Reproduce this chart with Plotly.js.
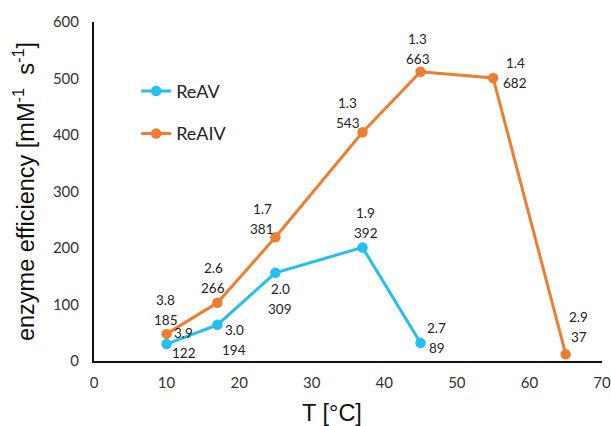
<!DOCTYPE html>
<html>
<head>
<meta charset="utf-8">
<script src="https://cdn.plot.ly/plotly-3.0.1.min.js"></script>
<style>html,body{margin:0;padding:0;background:#fff;}#chart{width:611px;height:426px;}</style>
</head>
<body>
<div id="chart"></div>
<script>
// ---- data ----
const tempReAV = [10, 17, 25, 37, 45];
const effReAV = [30, 64, 156, 201, 32];
const topLabelReAV = ['3.9', '3.0', '2.0', '1.9', '2.7'];
const botLabelReAV = ['122', '194', '309', '392', '89'];

const tempReAIV = [10, 17, 25, 37, 45, 55, 65];
const effReAIV = [48, 103, 219, 405, 512, 501, 12];
const topLabelReAIV = ['3.8', '2.6', '1.7', '1.3', '1.3', '1.4', '2.9'];
const botLabelReAIV = ['185', '266', '381', '543', '663', '682', '37'];

const xTicks = [0, 10, 20, 30, 40, 50, 60, 70];
const yTicks = [0, 100, 200, 300, 400, 500, 600];

// ---- label placement (pixel offsets from each point: [dx, dy] with dy down) ----
const shiftReAV = [[17, -1], [17, 15], [5, 26], [3, -24], [16, -5]];
const shiftReAIV = [[-1, -24], [-4, -25], [-13, -18], [-15, -19], [-3, -23], [22, -5], [13, -27]];

const blue = '#22BFEF';
const orange = '#ED7D31';
const labelFont = {family: 'Lato, "Open Sans", sans-serif', size: 13.5, color: '#222'};

function labels(xs, ys, tops, bots, shifts) {
  const out = [];
  xs.forEach((x, i) => {
    const [dx, dy] = shifts[i];
    out.push({x: x, y: ys[i], xref: 'x', yref: 'y', text: tops[i], showarrow: false,
      xanchor: 'center', yanchor: 'middle', xshift: dx, yshift: -dy + 10, font: labelFont});
    out.push({x: x, y: ys[i], xref: 'x', yref: 'y', text: bots[i], showarrow: false,
      xanchor: 'center', yanchor: 'middle', xshift: dx, yshift: -dy - 10, font: labelFont});
  });
  return out;
}

const traces = [
  {x: tempReAV, y: effReAV, name: 'ReAV', type: 'scatter', mode: 'lines+markers',
   line: {color: blue, width: 3}, marker: {color: blue, size: 10.5}, legendgroup: 'a', hoverinfo: 'skip'},
  {x: tempReAIV, y: effReAIV, name: 'ReAIV', type: 'scatter', mode: 'lines+markers',
   line: {color: orange, width: 3}, marker: {color: orange, size: 10.5}, legendgroup: 'b', hoverinfo: 'skip'}
];

const annotations = []
  .concat(labels(tempReAV, effReAV, topLabelReAV, botLabelReAV, shiftReAV))
  .concat(labels(tempReAIV, effReAIV, topLabelReAIV, botLabelReAIV, shiftReAIV));

annotations.push({xref: 'paper', yref: 'paper', x: 0.469, y: -0.153, text: 'T [°C]', showarrow: false,
  xanchor: 'center', yanchor: 'middle', font: {family: '"Liberation Sans", Arial, sans-serif', size: 23.5, color: '#111'}});

const layout = {
  width: 611, height: 426,
  margin: {l: 94, r: 9, t: 22, b: 65},
  paper_bgcolor: '#fff', plot_bgcolor: '#fff',
  showlegend: true,
  legend: {x: 0.083, y: 0.85, xanchor: 'left', yanchor: 'top', bgcolor: 'rgba(0,0,0,0)',
    font: {family: 'Lato, "Open Sans", sans-serif', size: 18, color: '#222'},
    tracegroupgap: 16, itemwidth: 30},
  xaxis: {range: [0, 70], tickvals: xTicks, ticktext: xTicks.map(String), showgrid: false, zeroline: false,
    showline: true, linecolor: '#111', linewidth: 2, ticks: '', ticklen: 0, fixedrange: true,
    ticklabelstandoff: 7,
    tickfont: {family: 'Lato, "Open Sans", sans-serif', size: 15, color: '#333'}},
  yaxis: {range: [0, 600], tickvals: yTicks, ticktext: yTicks.map(String), showgrid: false, zeroline: false,
    showline: true, linecolor: '#111', linewidth: 2, ticks: '', ticklen: 0, fixedrange: true,
    ticklabelstandoff: 10,
    tickfont: {family: 'Lato, "Open Sans", sans-serif', size: 15, color: '#333'},
    title: {text: 'enzyme efficiency [mM<sup>-1</sup>  s<sup>-1</sup>]', standoff: 12,
      font: {family: '"Liberation Sans", Arial, sans-serif', size: 23.5, color: '#111'}}},
  annotations: annotations
};

Plotly.newPlot('chart', traces, layout, {displayModeBar: false, staticPlot: true});
</script>
</body>
</html>
